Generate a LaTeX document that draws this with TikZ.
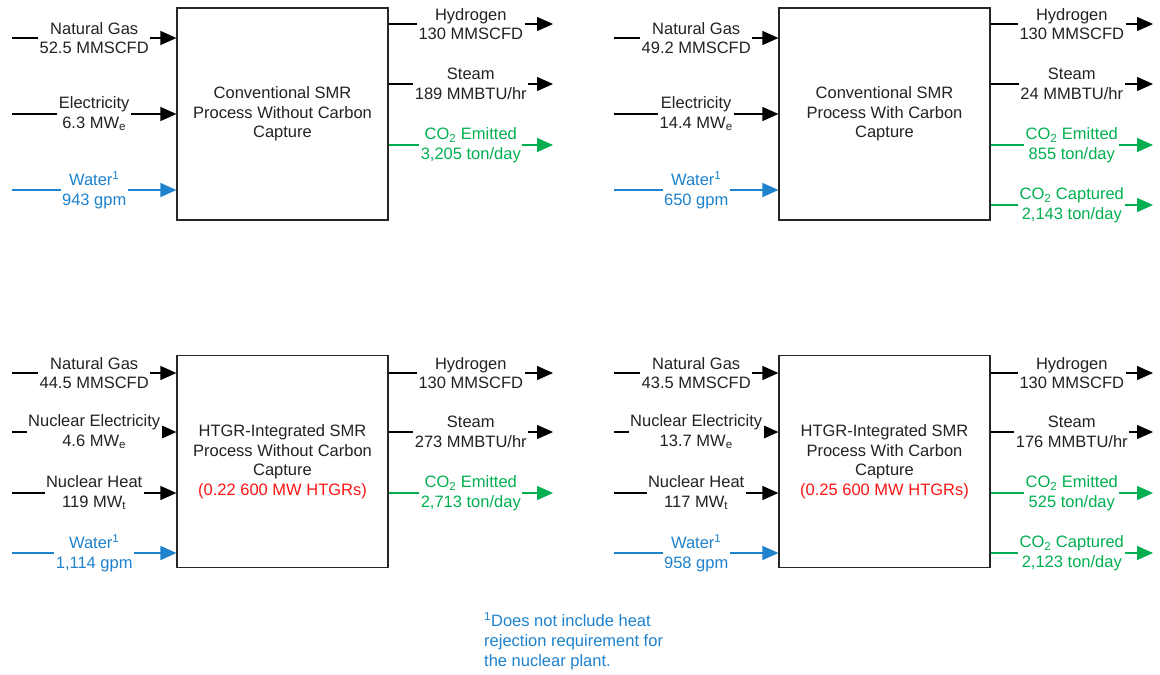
\documentclass[tikz,border=0pt]{standalone}
\usepackage{fontspec}
\setmainfont{Liberation Sans}
\usetikzlibrary{arrows.meta}
\definecolor{txt}{RGB}{34,34,34}
\definecolor{wblue}{RGB}{30,130,205}
\definecolor{cgreen}{RGB}{0,176,80}
\definecolor{hred}{RGB}{255,20,20}
\begin{document}
\begin{tikzpicture}[x=1pt,y=-1pt,
  font=\fontsize{16.5}{19.5}\selectfont,
  procbox/.style={draw=black!85, line width=1.2pt, minimum width=211pt, minimum height=212pt, align=center, inner sep=0pt, text=txt},
  flow/.style={line width=1.4pt, draw=black, -{Triangle[length=16pt,width=14pt]}},
  bflow/.style={flow, draw=wblue, fill=wblue},
  gflow/.style={flow, draw=cgreen, fill=cgreen},
  lbl/.style={fill=white, align=center, inner xsep=1.5pt, inner ysep=0pt, text=txt},
  blbl/.style={lbl, text=wblue},
  glbl/.style={lbl, text=cgreen}]
\fill[white] (0,0) rectangle (1160,675);
\useasboundingbox (0,0) rectangle (1160,675);

% boxes
\node[procbox] (b1) at (282.5,114) {Conventional SMR\\Process Without Carbon\\Capture};
\node[procbox] (b2) at (884.5,114) {Conventional SMR\\Process With Carbon\\Capture};
\node[procbox] (b3) at (282.5,461.5) {HTGR-Integrated SMR\\Process Without Carbon\\Capture\\\textcolor{hred}{(0.22 600 MW HTGRs)}};
\node[procbox] (b4) at (884.5,461.5) {HTGR-Integrated SMR\\Process With Carbon\\Capture\\\textcolor{hred}{(0.25 600 MW HTGRs)}};

% box 1 inputs
\coordinate (i11) at (12,38);
\coordinate (i12) at (12,114);
\coordinate (i13) at (12,190);
\draw[flow] (i11) -- (i11 -| b1.west) node[lbl,midway]{Natural Gas\\52.5 MMSCFD};
\draw[flow] (i12) -- (i12 -| b1.west) node[lbl,midway]{Electricity\\6.3 MW\textsubscript{e}};
\draw[bflow] (i13) -- (i13 -| b1.west) node[blbl,midway]{Water\textsuperscript{1}\\943 gpm};
% box 1 outputs
\coordinate (o11) at (553,24);
\coordinate (o12) at (553,84);
\coordinate (o13) at (553,145);
\draw[flow] (o11 -| b1.east) -- (o11) node[lbl,midway]{Hydrogen\\130 MMSCFD};
\draw[flow] (o12 -| b1.east) -- (o12) node[lbl,midway]{Steam\\189 MMBTU/hr};
\draw[gflow] (o13 -| b1.east) -- (o13) node[glbl,midway]{CO\textsubscript{2} Emitted\\3,205 ton/day};

% box 2 inputs
\coordinate (i21) at (614,38);
\coordinate (i22) at (614,114);
\coordinate (i23) at (614,190);
\draw[flow] (i21) -- (i21 -| b2.west) node[lbl,midway]{Natural Gas\\49.2 MMSCFD};
\draw[flow] (i22) -- (i22 -| b2.west) node[lbl,midway]{Electricity\\14.4 MW\textsubscript{e}};
\draw[bflow] (i23) -- (i23 -| b2.west) node[blbl,midway]{Water\textsuperscript{1}\\650 gpm};
% box 2 outputs
\coordinate (o21) at (1153,24);
\coordinate (o22) at (1153,84);
\coordinate (o23) at (1153,145);
\coordinate (o24) at (1153,205);
\draw[flow] (o21 -| b2.east) -- (o21) node[lbl,midway]{Hydrogen\\130 MMSCFD};
\draw[flow] (o22 -| b2.east) -- (o22) node[lbl,midway]{Steam\\24 MMBTU/hr};
\draw[gflow] (o23 -| b2.east) -- (o23) node[glbl,midway]{CO\textsubscript{2} Emitted\\855 ton/day};
\draw[gflow] (o24 -| b2.east) -- (o24) node[glbl,midway]{CO\textsubscript{2} Captured\\2,143 ton/day};

% box 3 inputs
\coordinate (i31) at (12,373);
\coordinate (i32) at (12,432);
\coordinate (i33) at (12,493);
\coordinate (i34) at (12,553);
\draw[flow] (i31) -- (i31 -| b3.west) node[lbl,midway]{Natural Gas\\44.5 MMSCFD};
\draw[flow] (i32) -- (i32 -| b3.west) node[lbl,midway]{Nuclear Electricity\\4.6 MW\textsubscript{e}};
\draw[flow] (i33) -- (i33 -| b3.west) node[lbl,midway]{Nuclear Heat\\119 MW\textsubscript{t}};
\draw[bflow] (i34) -- (i34 -| b3.west) node[blbl,midway]{Water\textsuperscript{1}\\1,114 gpm};
% box 3 outputs
\coordinate (o31) at (553,373);
\coordinate (o32) at (553,432);
\coordinate (o33) at (553,493);
\draw[flow] (o31 -| b3.east) -- (o31) node[lbl,midway]{Hydrogen\\130 MMSCFD};
\draw[flow] (o32 -| b3.east) -- (o32) node[lbl,midway]{Steam\\273 MMBTU/hr};
\draw[gflow] (o33 -| b3.east) -- (o33) node[glbl,midway]{CO\textsubscript{2} Emitted\\2,713 ton/day};

% box 4 inputs
\coordinate (i41) at (614,373);
\coordinate (i42) at (614,432);
\coordinate (i43) at (614,493);
\coordinate (i44) at (614,553);
\draw[flow] (i41) -- (i41 -| b4.west) node[lbl,midway]{Natural Gas\\43.5 MMSCFD};
\draw[flow] (i42) -- (i42 -| b4.west) node[lbl,midway]{Nuclear Electricity\\13.7 MW\textsubscript{e}};
\draw[flow] (i43) -- (i43 -| b4.west) node[lbl,midway]{Nuclear Heat\\117 MW\textsubscript{t}};
\draw[bflow] (i44) -- (i44 -| b4.west) node[blbl,midway]{Water\textsuperscript{1}\\958 gpm};
% box 4 outputs
\coordinate (o41) at (1153,373);
\coordinate (o42) at (1153,432);
\coordinate (o43) at (1153,493);
\coordinate (o44) at (1153,553);
\draw[flow] (o41 -| b4.east) -- (o41) node[lbl,midway]{Hydrogen\\130 MMSCFD};
\draw[flow] (o42 -| b4.east) -- (o42) node[lbl,midway]{Steam\\176 MMBTU/hr};
\draw[gflow] (o43 -| b4.east) -- (o43) node[glbl,midway]{CO\textsubscript{2} Emitted\\525 ton/day};
\draw[gflow] (o44 -| b4.east) -- (o44) node[glbl,midway]{CO\textsubscript{2} Captured\\2,123 ton/day};

% footnote
\node[anchor=north west, align=left, text=wblue, inner sep=0pt, font=\fontsize{16.5}{20}\selectfont] (fn) at (484,612)
  {\textsuperscript{1}Does not include heat\\rejection requirement for\\the nuclear plant.};
\end{tikzpicture}
\end{document}
